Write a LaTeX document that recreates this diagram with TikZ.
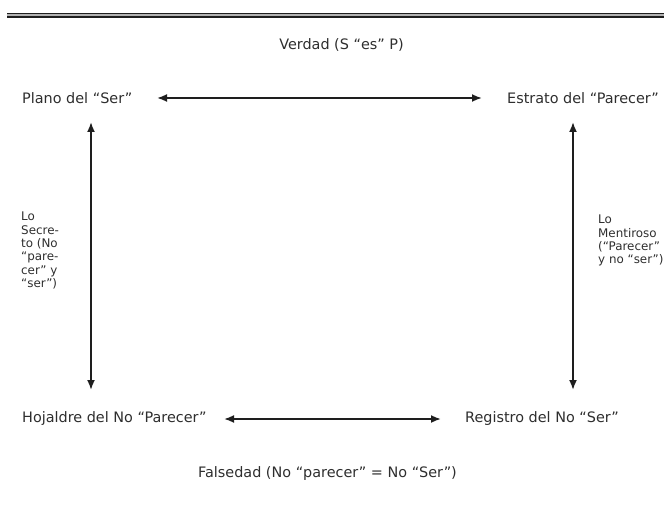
\documentclass[tikz,border=0pt]{standalone}
\usepackage{fontspec}
\setmainfont{DejaVu Sans}
\usetikzlibrary{arrows.meta}
\definecolor{txt}{HTML}{2E2E2E}
\definecolor{ln}{HTML}{1E1E1E}
\begin{document}
\begin{tikzpicture}[x=1pt,y=-1pt,
  lbl/.style={inner sep=0pt,text=txt,font=\fontsize{14.4}{15}\selectfont},
  blk/.style={lbl,align=left,anchor=north west,font=\fontsize{11.9}{13.3}\selectfont},
  biarrow/.style={{Latex[length=10pt,width=8pt]}-{Latex[length=10pt,width=8pt]},line width=1.8pt,draw=ln}]
\useasboundingbox (0,0) rectangle (664,508);
\fill[ln] (7,12.8) rectangle (664,14.5);
\fill[ln] (7,15.8) rectangle (664,17.8);
\fill[gray!60] (7,14.5) rectangle (664,15.8);
\node[lbl] (verdad) at (341.5,45) {Verdad (S “es” P)};
\node[lbl,anchor=west] (plano) at (22,98) {Plano del “Ser”};
\node[lbl,anchor=west] (estrato) at (507,98) {Estrato del “Parecer”};
\node[lbl,anchor=west] (hoja) at (22,419) {Hojaldre del No “Parecer”};
\node[lbl,anchor=west] (registro) at (465,419) {Registro del No “Ser”};
\node[lbl] (falsedad) at (327.5,474) {Falsedad (No “parecer” = No “Ser”)};
\node[blk] (secreto) at (21,212) {Lo\\Secre-\\to (No\\“pare-\\cer” y\\“ser”)};
\node[blk] (mentiroso) at (598,215) {Lo\\Mentiroso\\(“Parecer”\\y no “ser”)};
\coordinate (tl) at (91,122);
\coordinate (bl) at (91,390);
\coordinate (tr) at (573,122);
\coordinate (br) at (573,390);
\coordinate (a1) at (157,98);
\coordinate (b1) at (482,98);
\coordinate (a2) at (224,419);
\coordinate (b2) at (441,419);
\draw[biarrow] (a1) -- (b1);
\draw[biarrow] (a2) -- (b2);
\draw[biarrow] (tl) -- (bl);
\draw[biarrow] (tr) -- (br);
\end{tikzpicture}
\end{document}
